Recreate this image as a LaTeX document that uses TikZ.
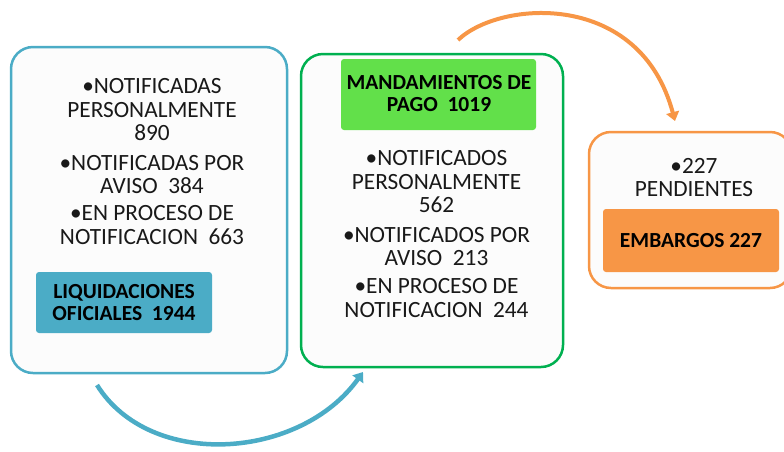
\documentclass[tikz,border=0pt]{standalone}
\usepackage{fontspec}
\setmainfont{Carlito}
\usetikzlibrary{arrows.meta}
\definecolor{cblue}{HTML}{4BACC6}
\definecolor{cgreen}{HTML}{00B050}
\definecolor{cgreenfill}{HTML}{62E04A}
\definecolor{corange}{HTML}{F79646}
\definecolor{cpanel}{HTML}{FCFCFC}
\tikzset{
  panel/.style={draw, line width=2.5pt, fill=cpanel, rounded corners=22pt, inner sep=0pt},
  tag/.style={rounded corners=3pt, inner sep=0pt},
  txt/.style={anchor=base, inner sep=0pt, font=\fontsize{23.3}{24}\selectfont, text=black!90},
  btxt/.style={anchor=base, inner sep=0pt, font=\bfseries\fontsize{21.5}{22}\selectfont, text=black},
  flow/.style={line width=4.5pt, -{Triangle[length=9pt,width=13pt]}}
}
\begin{document}
\begin{tikzpicture}[x=1pt,y=-1pt]
\useasboundingbox (0,0) rectangle (784,451);
% panels
\node[panel, draw=cblue, minimum width=276pt, minimum height=326pt] (p1) at (149,210) {};
\node[panel, draw=cgreen, minimum width=262pt, minimum height=313pt] (p2) at (432,210.5) {};
\node[panel, draw=corange, minimum width=203pt, minimum height=156pt] (p3) at (690.5,210) {};
% tags
\node[tag, fill=cblue, minimum width=176pt, minimum height=61pt] (t1) at (124,302.5) {};
\node[tag, fill=cgreenfill, minimum width=195pt, minimum height=71pt] (t2) at (438.5,94.5) {};
\node[tag, fill=corange, minimum width=176pt, minimum height=63pt] (t3) at (691,240.5) {};
% panel 1 text
\node[txt] (a1) at (152,93) {•NOTIFICADAS};
\node[txt] (a2) at (152,117) {PERSONALMENTE};
\node[txt] (a3) at (152,140) {890};
\node[txt] (a4) at (152,170) {•NOTIFICADAS POR};
\node[txt] (a5) at (152,193) {AVISO~~384};
\node[txt] (a6) at (152,220) {•EN PROCESO DE};
\node[txt] (a7) at (152,244) {NOTIFICACION~~663};
\node[btxt] (a8) at (124,298) {LIQUIDACIONES};
\node[btxt] (a9) at (124,320) {OFICIALES~~1944};
% panel 2 text
\node[btxt] (b0) at (439,89) {MANDAMIENTOS DE};
\node[btxt] (b00) at (439,111) {PAGO~~1019};
\node[txt] (b1) at (436.5,165) {•NOTIFICADOS};
\node[txt] (b2) at (436.5,189) {PERSONALMENTE};
\node[txt] (b3) at (436.5,212) {562};
\node[txt] (b4) at (436.5,242) {•NOTIFICADOS POR};
\node[txt] (b5) at (436.5,265) {AVISO~~213};
\node[txt] (b6) at (436.5,293) {•EN PROCESO DE};
\node[txt] (b7) at (436.5,317) {NOTIFICACION~~244};
% panel 3 text
\node[txt] (c1) at (694,173) {•227};
\node[txt] (c2) at (694,196) {PENDIENTES};
\node[btxt] (c3) at (691,247) {EMBARGOS 227};
% arcs
\coordinate (s1) at (97,385);
\coordinate (e1) at (363,372);
\coordinate (s2) at (458,40);
\coordinate (e2) at (675,121);
\draw[flow, draw=cblue] (s1) .. controls (150,470) and (300,460) .. (e1);
\draw[flow, draw=corange, line width=4pt] (s2) .. controls (500,0) and (640,-10) .. (e2);
\end{tikzpicture}
\end{document}
